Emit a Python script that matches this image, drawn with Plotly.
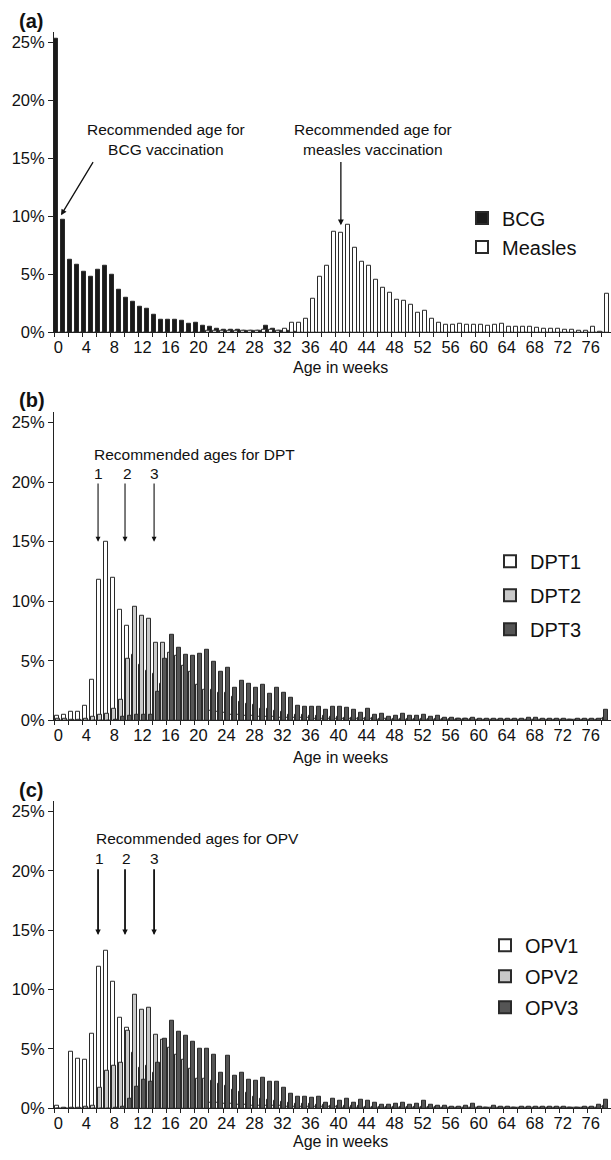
import plotly.graph_objects as go

W, H = 611, 1160
FONT = "Liberation Sans, Arial, sans-serif"

weeks = list(range(79))

# ---------------- panel (a) ----------------
bcg = [25.3, 9.7, 6.3, 5.8, 5.2, 4.8, 5.4, 5.7, 5.0, 3.7,
       3.0, 2.6, 2.2, 2.0, 1.5, 1.05, 1.1, 1.05, 1.0, 0.75,
       0.85, 0.6, 0.45, 0.3, 0.25, 0.25, 0.2, 0.15, 0.1, 0.15,
       0.55, 0.3, 0.1, 0.1, 0.05] + [0.0] * 44
measles = [0.0] * 21 + [0.15, 0.15, 0.1, 0.15, 0.1, 0.15, 0.15, 0.1, 0.2,
           0.2, 0.15, 0.3, 0.85, 0.85, 1.2, 2.9, 4.8, 5.7, 8.7,
           8.6, 9.3, 7.3, 6.1, 5.75, 4.5, 3.85, 3.45, 2.8, 2.7,
           2.4, 1.7, 1.9, 1.2, 0.8, 0.7, 0.7, 0.75, 0.7, 0.7,
           0.65, 0.6, 0.65, 0.75, 0.5, 0.5, 0.45, 0.45, 0.4, 0.35,
           0.3, 0.3, 0.25, 0.2, 0.15, 0.1, 0.45, 0.05, 3.35]

# ---------------- panel (b) ----------------
dpt1 = [0.4, 0.5, 0.7, 0.7, 1.2, 3.4, 11.8, 15.0, 12.0, 9.3,
        7.9, 5.5, 4.7, 4.2, 3.9, 3.1, 2.5, 1.7, 1.5, 1.3,
        1.0, 0.9, 0.8, 0.7, 0.6, 0.5, 0.45, 0.4, 0.35, 0.3,
        0.3, 0.3, 0.25, 0.25, 0.2, 0.2, 0.2, 0.15, 0.15, 0.15,
        0.1, 0.1, 0.1, 0.1, 0.1, 0.1, 0.05, 0.1, 0.05, 0.05,
        0.05, 0.05, 0.05, 0.05, 0.05, 0.05, 0.05, 0.05, 0.05, 0.05,
        0.05, 0.05, 0.05, 0.05, 0.05, 0.05, 0.05, 0.05, 0.05, 0.05,
        0.05, 0.05, 0.05, 0.05, 0.05, 0.05, 0.05, 0.05, 0.1]
dpt2 = [0.1, 0.1, 0.05, 0.05, 0.1, 0.3, 0.45, 0.55, 1.0, 1.7,
        5.2, 9.5, 8.8, 8.5, 6.5, 6.5, 5.7, 5.4, 4.6, 4.1,
        3.0, 2.6, 2.6, 2.3, 2.3, 2.0, 1.6, 1.4, 1.3, 1.0,
        1.0, 0.8, 0.7, 0.5, 0.5, 0.45, 0.4, 0.4, 0.35, 0.3,
        0.3, 0.25, 0.25, 0.2, 0.2, 0.2, 0.15, 0.15, 0.15, 0.15,
        0.1, 0.1, 0.1, 0.1, 0.1, 0.1, 0.1, 0.1, 0.1, 0.1,
        0.05, 0.05, 0.05, 0.05, 0.05, 0.05, 0.05, 0.05, 0.05, 0.05,
        0.05, 0.05, 0.05, 0.05, 0.05, 0.05, 0.05, 0.05, 0.2]
dpt3 = [0.0, 0.0, 0.0, 0.0, 0.0, 0.0, 0.0, 0.0, 0.05, 0.3,
        0.4, 0.5, 0.45, 0.5, 2.4, 5.2, 7.2, 6.1, 5.5, 5.4,
        5.6, 5.9, 4.9, 4.1, 4.4, 2.7, 3.3, 3.1, 2.7, 3.0,
        2.2, 2.7, 2.3, 1.9, 1.25, 1.15, 1.15, 1.15, 0.9, 1.15,
        1.15, 1.05, 0.9, 0.65, 0.95, 0.45, 0.55, 0.3, 0.35, 0.55,
        0.35, 0.35, 0.45, 0.3, 0.35, 0.2, 0.2, 0.15, 0.15, 0.25,
        0.1, 0.1, 0.15, 0.15, 0.1, 0.1, 0.1, 0.2, 0.2, 0.15,
        0.1, 0.1, 0.15, 0.05, 0.1, 0.15, 0.1, 0.15, 0.9]

# ---------------- panel (c) ----------------
opv1 = [0.25, 0.05, 4.8, 4.2, 4.1, 6.3, 11.9, 13.3, 10.7, 7.6,
        6.8, 4.7, 3.4, 3.6, 3.0, 2.1, 1.6, 1.2, 0.9, 0.8,
        0.6, 0.5, 0.5, 0.45, 0.4, 0.35, 0.3, 0.3, 0.25, 0.25,
        0.2, 0.2, 0.2, 0.15, 0.15, 0.15, 0.1, 0.1, 0.1, 0.1,
        0.1, 0.05, 0.05, 0.05, 0.05, 0.05, 0.05, 0.05, 0.05, 0.05,
        0.05, 0.05, 0.05, 0.05, 0.05, 0.05, 0.05, 0.05, 0.05, 0.05,
        0.05, 0.05, 0.05, 0.05, 0.05, 0.05, 0.05, 0.05, 0.05, 0.05,
        0.05, 0.05, 0.05, 0.05, 0.05, 0.05, 0.05, 0.05, 0.1]
opv2 = [0.0, 0.0, 0.05, 0.05, 0.1, 0.2, 1.7, 3.2, 3.6, 3.8,
        6.5, 9.6, 8.3, 8.5, 6.2, 5.8, 5.1, 4.5, 4.1, 3.3,
        2.5, 2.5, 2.3, 2.1, 1.9, 1.6, 1.4, 1.3, 1.0, 0.8,
        0.7, 0.6, 0.55, 0.45, 0.4, 0.4, 0.35, 0.3, 0.3, 0.25,
        0.25, 0.2, 0.2, 0.2, 0.15, 0.15, 0.15, 0.1, 0.1, 0.1,
        0.1, 0.1, 0.1, 0.1, 0.1, 0.05, 0.05, 0.05, 0.05, 0.05,
        0.05, 0.05, 0.05, 0.05, 0.05, 0.05, 0.05, 0.05, 0.05, 0.05,
        0.05, 0.05, 0.05, 0.05, 0.05, 0.05, 0.05, 0.05, 0.2]
opv3 = [0.0, 0.0, 0.0, 0.0, 0.0, 0.0, 0.0, 0.0, 0.05, 0.1,
        0.85, 1.8, 2.4, 2.25, 3.8, 5.85, 7.35, 6.45, 6.15, 5.6,
        5.0, 5.0, 4.5, 3.0, 4.45, 2.75, 3.0, 2.45, 2.3, 2.6,
        2.2, 2.2, 1.7, 1.25, 1.0, 1.0, 0.9, 1.0, 0.5, 0.8,
        0.65, 0.85, 0.45, 0.7, 0.6, 0.45, 0.3, 0.3, 0.4, 0.45,
        0.3, 0.4, 0.6, 0.3, 0.25, 0.2, 0.1, 0.15, 0.2, 0.35,
        0.1, 0.05, 0.2, 0.15, 0.1, 0.05, 0.15, 0.1, 0.15, 0.15,
        0.15, 0.1, 0.15, 0.05, 0.05, 0.1, 0.1, 0.3, 0.7]

x_ticks = list(range(0, 77, 4))
y_ticks = [0, 5, 10, 15, 20, 25]
y_tick_text = [f"{v}%" for v in y_ticks]

WHITE = "#ffffff"
LIGHT = "#c9c9c9"
DARK = "#555555"
BLACK = "#1a1a1a"
EDGE = "#2a2a2a"

BW = 0.57

fig = go.Figure()

def add_bar(name, vals, fill, off, xa, ya, leg):
    fig.add_trace(go.Bar(
        x=weeks, y=vals, name=name, width=BW, offset=off,
        marker=dict(color=fill, line=dict(color=EDGE, width=1)),
        xaxis=xa, yaxis=ya, legend=leg, legendgroup=name,
    ))

add_bar("BCG", bcg, BLACK, -0.60, "x", "y", "legend")
add_bar("Measles", measles, WHITE, 0.03, "x", "y", "legend")
add_bar("DPT1", dpt1, WHITE, -0.528, "x2", "y2", "legend2")
add_bar("DPT2", dpt2, LIGHT, -0.285, "x2", "y2", "legend2")
add_bar("DPT3", dpt3, DARK, -0.042, "x2", "y2", "legend2")
add_bar("OPV1", opv1, WHITE, -0.528, "x3", "y3", "legend3")
add_bar("OPV2", opv2, LIGHT, -0.285, "x3", "y3", "legend3")
add_bar("OPV3", opv3, DARK, -0.042, "x3", "y3", "legend3")

XR = [-0.63, 78.9]
YR = [0, 25.9]

def py(pix):
    return 1 - pix / H

doms = {  # (bottom px, top px)
    1: (335, 32),
    2: (726, 415),
    3: (1117, 807),
}

layout = dict(
    width=W, height=H, margin=dict(l=0, r=0, t=0, b=0),
    paper_bgcolor="white", plot_bgcolor="white",
    barmode="overlay", bargap=0,
    font=dict(family=FONT, color="#111111"),
    showlegend=True,
)

for i in (1, 2, 3):
    sx = "" if i == 1 else str(i)
    b, t = doms[i]
    layout["xaxis" + sx] = dict(
        domain=[54 / W, 1], range=XR, anchor="y" + sx,
        tickmode="array", tickvals=x_ticks, ticktext=[str(v) for v in x_ticks],
        ticks="", showline=True, linecolor="#222222", linewidth=1,
        showgrid=False, zeroline=False,
        tickfont=dict(size=16.5, family=FONT, color="#111111"),
        ticklabelstandoff=0,
        minor=dict(tickvals=[k + 0.5 for k in range(-1, 79, 2)], ticks="outside",
                   ticklen=4, tickcolor="#222222", tickwidth=1, showgrid=False),
    )
    layout["yaxis" + sx] = dict(
        domain=[py(b), py(t)], range=YR, anchor="x" + sx,
        tickmode="array", tickvals=y_ticks, ticktext=y_tick_text,
        ticks="outside", ticklen=5, tickcolor="#222222",
        showline=True, linecolor="#222222", linewidth=1,
        showgrid=False, zeroline=False,
        tickfont=dict(size=16.5, family=FONT, color="#111111"),
    )

leg_common = dict(font=dict(size=20, family=FONT, color="#111111"),
                  bgcolor="rgba(0,0,0,0)", xanchor="left", yanchor="top",
                  traceorder="grouped", itemsizing="constant")
layout["legend"] = dict(x=462 / W, y=py(200), tracegroupgap=0, **leg_common)
layout["legend2"] = dict(x=490 / W, y=py(546), tracegroupgap=5, **leg_common)
layout["legend3"] = dict(x=485 / W, y=py(933), tracegroupgap=2, **leg_common)

fig.update_layout(**layout)

ann_font = dict(size=15.5, family=FONT, color="#111111")

def text(x, y, s, xref, yref, **kw):
    fig.add_annotation(x=x, y=y, xref=xref, yref=yref, text=s, showarrow=False,
                       font=kw.pop("font", ann_font), **kw)

def arrow(x0, y0, x1, y1, xref, yref, w=1.3, size=0.9):
    fig.add_annotation(x=x1, y=y1, ax=x0, ay=y0, xref=xref, yref=yref,
                       axref=xref, ayref=yref, text="", showarrow=True,
                       arrowhead=2, arrowsize=size, arrowwidth=w,
                       arrowcolor="#111111", standoff=0, startstandoff=0)

# panel labels
for lab, ypix in (("(a)", 21), ("(b)", 403), ("(c)", 796)):
    fig.add_annotation(x=17 / W, y=py(ypix), xref="paper", yref="paper",
                       text=f"<b>{lab}</b>", showarrow=False, xanchor="left",
                       yanchor="middle", font=dict(size=20, family=FONT, color="#111111"))

# axis titles
for ypix in (370, 763, 1150):
    fig.add_annotation(x=340 / W, y=py(ypix), xref="paper", yref="paper",
                       text="Age in weeks", showarrow=False, yanchor="middle",
                       font=dict(size=16, family=FONT, color="#111111"))

# panel (a) annotations
text(15.3, 16.6, "Recommended age for<br>BCG vaccination", "x", "y")
text(44.9, 16.6, "Recommended age for<br>measles vaccination", "x", "y")
arrow(5.08, 14.8, 0.37, 10.1, "x", "y")
arrow(40.33, 14.8, 40.33, 9.23, "x", "y")

# panel (b)
text(19.5, 22.33, "Recommended ages for DPT", "x2", "y2")
for n, xv in zip(("1", "2", "3"), (5.66, 9.8, 13.66)):
    text(xv, 20.75, n, "x2", "y2")
for xv in (5.66, 9.51, 13.66):
    arrow(xv, 20.0, xv, 15.0, "x2", "y2", w=1.1, size=0.9)

# panel (c)
text(19.86, 22.75, "Recommended ages for OPV", "x3", "y3")
for n, xv in zip(("1", "2", "3"), (5.8, 9.66, 13.66)):
    text(xv, 21.0, n, "x3", "y3")
for xv in (5.66, 9.51, 13.66):
    arrow(xv, 20.25, xv, 14.6, "x3", "y3", w=1.8, size=0.6)

fig.write_html("out.html")
